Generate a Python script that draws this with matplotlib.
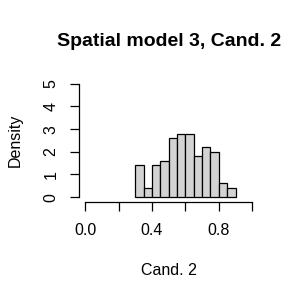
import numpy as np
import matplotlib
matplotlib.use("Agg")
import matplotlib.pyplot as plt

plt.rcParams['font.family'] = ['Liberation Sans', 'DejaVu Sans']

# histogram of Cand. 2 (density scale), bins of width 0.05
bin_edges = [0.30, 0.35, 0.40, 0.45, 0.50, 0.55, 0.60,
             0.65, 0.70, 0.75, 0.80, 0.85, 0.90]
density = [1.4, 0.4, 1.4, 1.6, 2.6, 2.8, 2.8, 1.8, 2.2, 2.0, 0.6, 0.4]
x_ticks = [0.0, 0.2, 0.4, 0.6, 0.8, 1.0]
x_ticklabels = ["0.0", "", "0.4", "", "0.8", ""]
y_ticks = [0, 1, 2, 3, 4, 5]

fig = plt.figure(figsize=(3, 3), dpi=100)
ax = fig.add_axes([0.2617, 0.328, 0.6013, 0.408])

ax.hist(bin_edges[:-1], bins=bin_edges, weights=density,
        color="#D3D3D3", edgecolor="black", linewidth=0.9)

ax.set_xlim(-0.04, 1.04)
ax.set_ylim(-0.2, 5.2)

for s in ["top", "right"]:
    ax.spines[s].set_visible(False)
ax.spines["bottom"].set_bounds(0, 1)
ax.spines["left"].set_bounds(0, 5)
ax.spines["bottom"].set_linewidth(0.9)
ax.spines["left"].set_linewidth(0.9)

ax.set_xticks(x_ticks)
ax.set_xticklabels(x_ticklabels, fontsize=11.5)
ax.set_yticks(y_ticks)
ax.set_yticklabels([str(v) for v in y_ticks], fontsize=11.5,
                   rotation=90, va="center")
ax.tick_params(axis="both", direction="out", length=6.5, width=0.9)
ax.tick_params(axis="x", pad=9)
ax.tick_params(axis="y", pad=8)

ax.set_xlabel("Cand. 2", fontsize=11.5, labelpad=18)
ax.set_ylabel("Density", fontsize=11.5, labelpad=15)
ax.set_title("Spatial model 3, Cand. 2", fontsize=14,
             fontweight="bold", pad=24)

fig.savefig("out.png", dpi=100)
